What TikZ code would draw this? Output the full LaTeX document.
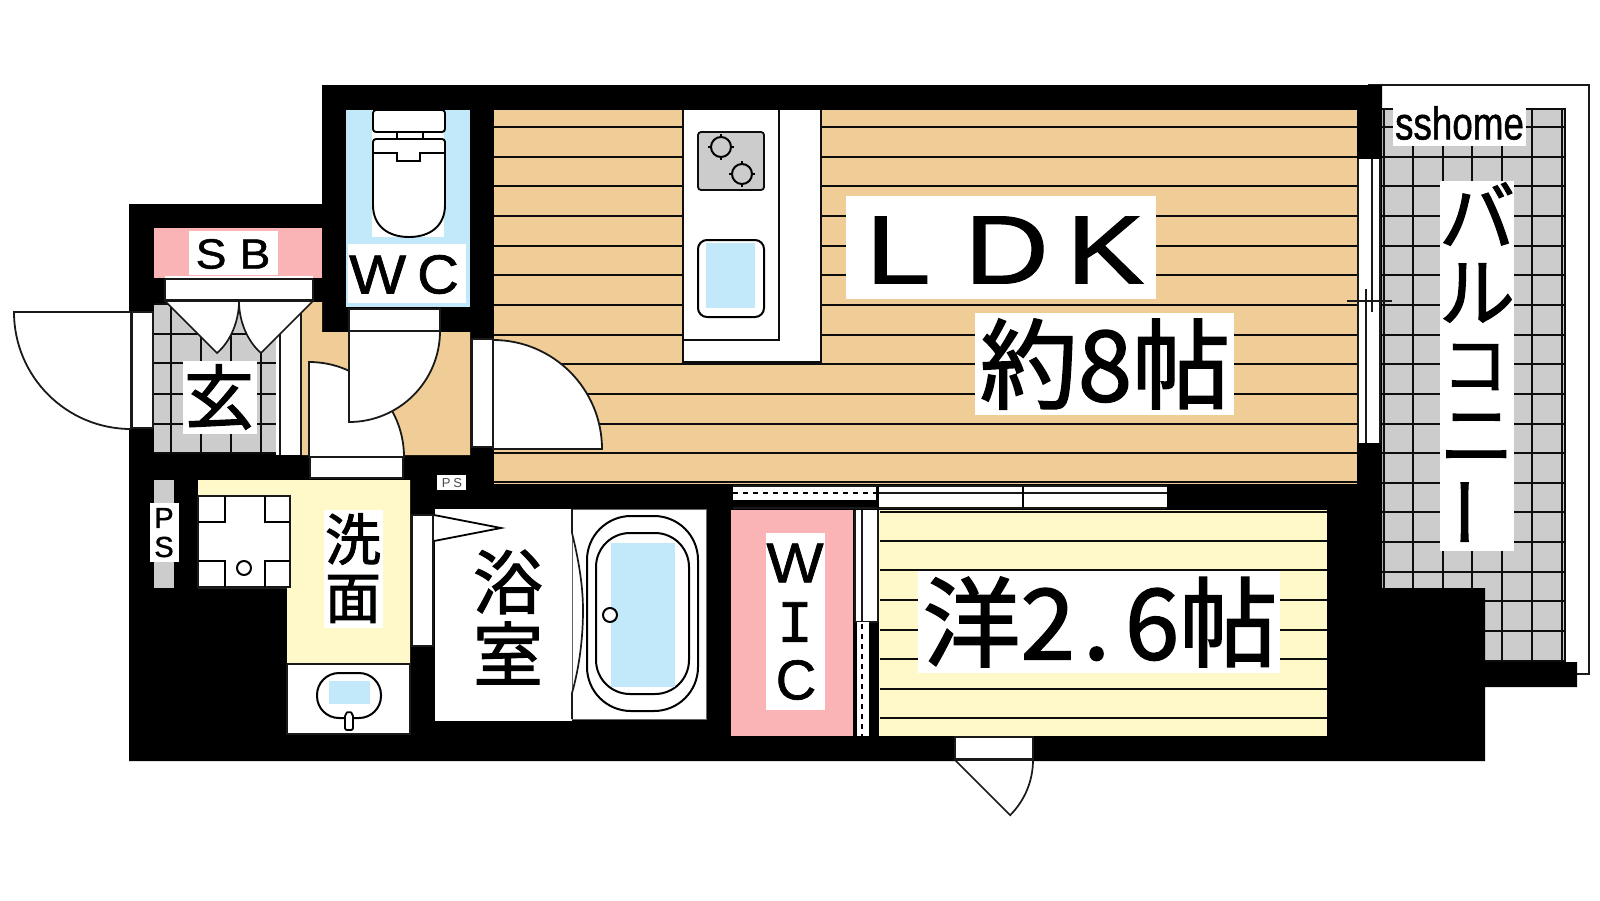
\documentclass[tikz,border=0pt]{standalone}
\usepackage{graphicx}
\usepackage{fontspec}
\setmainfont{Liberation Sans}[RawFeature={embolden=1.2}]
\newfontfamily\plainlatin{Liberation Sans}
\newfontfamily\serifi{Liberation Mono}[RawFeature={embolden=1.2}]
\newfontfamily\cjk{Noto Sans CJK JP}[RawFeature={embolden=1.6}]
\definecolor{tan}{HTML}{F0CC96}
\definecolor{ylw}{HTML}{FFF9C9}
\definecolor{pnk}{HTML}{FAB4B6}
\definecolor{aqua}{HTML}{C2E9FA}
\definecolor{tile}{HTML}{CCCCCC}
\tikzset{
 thin line/.style={line width=1.7pt,draw=black!90},
 grid line/.style={line width=2pt,draw=black!95},
 fixture/.style={line width=1.8pt,draw=black!90,fill=white},
 lbl/.style={fill=white,inner sep=0pt,outer sep=0pt,anchor=center},
 txt/.style={inner sep=0pt,outer sep=0pt,anchor=center,text=black},
}
\newcommand{\fs}[1]{\fontsize{#1}{#1}\selectfont}
\begin{document}
\begin{tikzpicture}[x=1pt,y=-1pt]
\useasboundingbox (0,0) rectangle (1600,900);
% balcony
\draw[thin line] (1368,85) -- (1589,85) -- (1589,674) -- (1577,674);
\fill[tile] (1382,108) rectangle (1565,662);
\foreach \xx in {1384,1413,1443,1472,1502,1532,1562,1565}
  \draw[grid line] (\xx,108) -- (\xx,662);
\draw[grid line] (1382,109) -- (1565,109);
\foreach \k in {0,...,18}
  \draw[grid line] (1382,127+29.65*\k) -- (1565,127+29.65*\k);
% outer walls
\fill[black] (129,204) -- (322,204) -- (322,85) -- (1382,85) -- (1382,588) -- (1485,588) -- (1485,662) -- (1577,662) -- (1577,687) -- (1485,687) -- (1485,761) -- (129,761) -- cycle;
% LDK
\fill[tan] (494,110) rectangle (1357,484);
\foreach \yy in {127,156.6,186.3,216,245.6,275.3,304.9,334.6,364.2,393.9,423.5,453.2,482}
  \draw[grid line] (494,\yy) -- (1357,\yy);
% window
\fill[white] (1358,159) rectangle (1381,443);
\draw[thin line] (1358,159) -- (1358,443);
\draw[thin line] (1380,159) -- (1380,443);
\draw[thin line] (1372,159) -- (1372,312);
\draw[thin line] (1366,289) -- (1366,443);
\draw[thin line] (1347,301) -- (1392,301);
% kitchen
\fill[white] (683,110) rectangle (821,362);
\draw[grid line] (683,110) -- (683,362) -- (821,362) -- (821,110);
\draw[grid line] (779,110) -- (779,340) -- (683,340);
\filldraw[line width=1.8pt,draw=black!95,fill=tile,rounded corners=3pt] (698,132) rectangle (764,190);
\foreach \cx/\cy in {721/147,742/174}{
  \draw[line width=2pt] (\cx,\cy) circle (10pt);
  \draw[line width=2pt] (\cx-13,\cy) -- (\cx-9,\cy) (\cx+9,\cy) -- (\cx+13,\cy) (\cx,\cy-13) -- (\cx,\cy-9) (\cx,\cy+9) -- (\cx,\cy+13);
}
\fill[aqua] (706,243) rectangle (755,308);
\draw[line width=2pt,draw=black,rounded corners=9pt] (698,240) rectangle (764,317);
% WC
\fill[aqua] (346,110) rectangle (470,307);
\fill[white] (372,110) rectangle (444,237);
\fill[aqua] (346,132.8) rectangle (372,137);
\draw[line width=1.9pt,rounded corners=3pt] (373,110) rectangle (445,132);
\draw[line width=1.9pt] (397,132) -- (397,139) (423,132) -- (423,139);
\draw[line width=1.9pt,rounded corners=3pt] (373,153) -- (373,139) -- (445,139) -- (445,153);
\draw[line width=1.9pt] (373,153) -- (373,205) .. controls (373,226) and (388,237) .. (409,237) .. controls (430,237) and (445,226) .. (445,205) -- (445,153);
\draw[line width=1.9pt] (373,153) -- (397,153) -- (397,161) -- (420,161) -- (420,153) -- (445,153);
\node[lbl,minimum width=118pt,minimum height=59pt] (wcbg) at (407,273.5) {};
\node[txt] (wc) at (404,274.5) {\fs{55}\scalebox{1.1}[1]{W}\hspace{11pt}\scalebox{1.05}[1]{C}};
% hall
\fill[tan] (302,302) -- (322,302) -- (322,332) -- (470,332) -- (470,455) -- (302,455) -- cycle;
% entry
\fill[white] (276,300) rectangle (302,455);
\fill[tile] (154,303) rectangle (276,454);
\foreach \xx in {171,201,231,261}
  \draw[grid line] (\xx,303) -- (\xx,454);
\foreach \yy in {304,334,363,394,424,453}
  \draw[grid line] (154,\yy) -- (276,\yy);
\draw[thin line] (280,310) -- (280,455);
\draw[thin line] (301,310) -- (301,455);
% SB
\fill[pnk] (154,228) rectangle (322,278);
\fill[black] (154,278) rectangle (165,302);
\fill[black] (313,278) rectangle (322,302);
\fill[white] (165,276) rectangle (313,300);
\draw[thin line] (165,279) -- (313,279);
\draw[thin line] (165,279) -- (165,300) (313,279) -- (313,300);
\draw[thin line] (165,300) -- (313,300);
\filldraw[line width=1.7pt,draw=black!90,fill=white] (165,301) -- (217,353) .. controls (230,342) and (239,322) .. (239,301) -- cycle;
\filldraw[line width=1.7pt,draw=black!90,fill=white] (239,301) .. controls (239,322) and (248,342) .. (261,353) -- (313,301) -- cycle;
\node[lbl,minimum width=89pt,minimum height=44pt] (sbbg) at (233.5,253) {};
\node[txt] (sb) at (233,254) {\fs{42}\scalebox{1.1}[1]{S}\hspace{13pt}\scalebox{1.1}[1]{B}};
\node[lbl,minimum width=74pt,minimum height=73pt] (genbg) at (220,397.5) {};
\node[txt] (gen) at (219,397) {\cjk\fs{70}玄};
% entry door
\filldraw[fixture] (132,312) rectangle (153,428);
\filldraw[fixture] (131,312) -- (14,312) arc[start angle=180,end angle=270,radius=117pt] -- cycle;
% hall door
\filldraw[fixture] (310,457) rectangle (403,478);
\filldraw[fixture] (309,457) -- (309,362) arc[start angle=90,end angle=0,radius=95pt] -- cycle;
% wc door
\filldraw[fixture] (349,309) rectangle (440,331);
\filldraw[fixture] (349,331) -- (440,331) arc[start angle=0,end angle=-90,radius=91pt] -- cycle;
% ldk door
\filldraw[fixture] (472,339) rectangle (493,447);
\filldraw[fixture] (493,449) -- (493,340) arc[start angle=90,end angle=0,radius=109pt] -- cycle;
% PS left
\fill[tile] (154,480) rectangle (174,588);
\node[lbl,minimum width=29pt,minimum height=59pt] (ps1bg) at (164.5,532.5) {};
\node[txt] (ps1p) at (164,518) {\fs{29}P};
\node[txt] (ps1s) at (164,547) {\fs{29}S};
% PS small
\node[lbl,minimum width=29pt,minimum height=15pt] (ps2bg) at (451.5,482.5) {};
\node[txt] (ps2) at (452,483) {\plainlatin\fs{13}\textcolor{black!70}{P\hspace{3pt}S}};
% washroom
\fill[ylw] (198,480) -- (410,480) -- (410,663) -- (287,663) -- (287,588) -- (198,588) -- cycle;
\filldraw[fixture] (198,496) rectangle (290,587);
\draw[line width=1.8pt] (198,522) -- (225,522) -- (225,496) (265,496) -- (265,522) -- (290,522) (198,561) -- (225,561) -- (225,587) (265,587) -- (265,561) -- (290,561);
\draw[line width=2pt] (244,568) circle (7pt);
\filldraw[fixture] (287,664) -- (410,664) -- (410,734) -- (287,734) -- cycle;
\filldraw[line width=2pt,draw=black,fill=white,rounded corners=22pt] (317,673) rectangle (381,718);
\fill[aqua] (329,681) rectangle (370,704);
\filldraw[line width=1.8pt,draw=black,fill=white,rounded corners=2pt] (345,730) -- (345,714) -- (349,711) -- (353,714) -- (353,730) -- cycle;
\node[lbl,minimum width=59pt,minimum height=118pt] (senbg) at (353.5,569) {};
\node[txt] (sen1) at (353,539) {\cjk\fs{56}洗};
\node[txt] (sen2) at (353,599) {\cjk\fs{56}面};
% bath
\fill[white] (435,509) rectangle (572,721);
\filldraw[fixture] (412,515) rectangle (433,646);
\filldraw[line width=1.8pt,draw=black,fill=white] (434,515) -- (501,528) -- (434,541);
\node[txt] (yoku1) at (508,582) {\cjk\fs{70}浴};
\node[txt] (yoku2) at (508,653) {\cjk\fs{70}室};
\filldraw[line width=1pt,draw=black!60,fill=white] (572,509) rectangle (706,719);
\fill[white] (569,510) rectangle (572,719);
\draw[thin line] (572,509) -- (572,533) .. controls (580,565) and (583,590) .. (583,610) .. controls (583,635) and (580,665) .. (572,693) -- (572,719);
\draw[line width=2pt,rounded corners=44pt] (587,516) rectangle (698,711);
\draw[line width=2pt,rounded corners=34pt] (596,533) rectangle (689,694);
\fill[aqua] (611,543) rectangle (675,687);
\filldraw[line width=2pt,draw=black,fill=white] (610,615) circle (7pt);
% WIC
\fill[pnk] (731,510) rectangle (853,736);
\node[lbl,minimum width=59pt,minimum height=177pt] (wicbg) at (795.5,621.5) {};
\node[txt] (w) at (795,563) {\fs{56}\scalebox{1.08}[1]{W}};
\node[txt] (i) at (795,622) {\serifi\fs{60}I};
\node[txt] (c) at (796,680) {\fs{56}C};
% closet doors
\fill[white] (854,510) rectangle (878,622);
\draw[thin line] (855,510) -- (855,622) (862,510) -- (862,622) (878,510) -- (878,622) (855,622) -- (878,622);
\fill[white] (857,622) rectangle (869,736);
\draw[line width=1.8pt,dash pattern=on 5pt off 5pt] (862,624) -- (862,736);
% yellow room
\fill[ylw] (879,510) rectangle (1327,736);
\foreach \yy in {512,541,570,600,630,659,689,718}
  \draw[grid line] (880,\yy) -- (1327,\yy);
% top sliding doors
\fill[white] (733,487) rectangle (876,500);
\draw[line width=1.8pt,dash pattern=on 5pt off 5pt] (733,493) -- (876,493);
\fill[white] (878,486) rectangle (1167,508);
\draw[thin line] (733,486) -- (1167,486);
\draw[thin line] (878,493) -- (1167,493);
\draw[thin line] (733,508) -- (1167,508);
\draw[line width=1.7pt] (878,486) -- (878,508) (1023,486) -- (1023,508);
% room door
\filldraw[fixture] (955,737) rectangle (1033,759);
\filldraw[thin line,fill=white] (955,760) -- (1033,760) arc[start angle=0,end angle=-45,radius=78pt] -- cycle;
% labels
\node[lbl,minimum width=310pt,minimum height=103pt] (ldkbg) at (1001,247.5) {};
\node[txt] (ldk) at (1005,250) {\fs{97}\scalebox{1.2}[1]{L}\hspace{34pt}\scalebox{1.2}[1]{D}\hspace{18pt}\scalebox{1.2}[1]{K}};
\node[lbl,minimum width=259pt,minimum height=102pt] (r1bg) at (1104.5,364) {};
\node[txt] (r1) at (1105,364) {\cjk\fs{98}約8帖};
\node[lbl,minimum width=362pt,minimum height=102pt] (r2bg) at (1099,622) {};
\node[txt] (r2) at (1100,622) {\cjk\fs{98}洋2\makebox[50pt][l]{\hspace{8pt}.}6帖};
% balcony labels
\node[lbl,minimum width=133pt,minimum height=38pt] (sshomebg) at (1459.5,127) {};
\node[txt] (sshome) at (1459.5,123) {\scalebox{0.8}[1]{\fs{46}sshome}};
\node[lbl,minimum width=74pt,minimum height=370pt] (balbg) at (1477,366) {};
\node[txt] (b1) at (1477,214) {\cjk\fs{76}バ};
\node[txt] (b2) at (1477,293) {\cjk\fs{76}ル};
\node[txt] (b3) at (1475,367) {\cjk\fs{66}コ};
\node[txt] (b4) at (1477,438) {\cjk\fs{74}ニ};
\node[txt] (b5) at (1477,512) {\rotatebox{90}{\cjk\fs{74}ー}};
\end{tikzpicture}
\end{document}
